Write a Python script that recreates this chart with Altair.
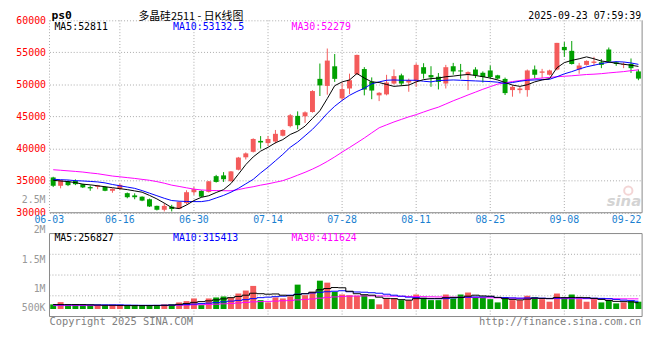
import altair as alt
import pandas as pd

# ---------------- data ----------------
dates = ["06-03","06-04","06-05","06-06","06-09","06-10","06-11","06-12","06-13","06-16",
         "06-17","06-18","06-19","06-20","06-23","06-24","06-25","06-26","06-27","06-30",
         "07-01","07-02","07-03","07-04","07-07","07-08","07-09","07-10","07-11","07-14",
         "07-15","07-16","07-17","07-18","07-21","07-22","07-23","07-24","07-25","07-28",
         "07-29","07-30","07-31","08-01","08-04","08-05","08-06","08-07","08-08","08-11",
         "08-12","08-13","08-14","08-15","08-18","08-19","08-20","08-21","08-22","08-25",
         "08-26","08-27","08-28","08-29","09-01","09-02","09-03","09-04","09-05","09-08",
         "09-09","09-10","09-11","09-12","09-15","09-16","09-17","09-18","09-19","09-22"]

opens = [35500,34200,34900,34950,34450,34000,34030,34030,33420,33730,
         33050,32700,32500,32100,31070,30460,30950,30600,31500,33200,
         33400,33250,35700,35820,34910,36700,38640,39500,41200,40850,
         41100,42000,43500,45100,45030,45700,50870,49770,52830,47830,
         49370,51600,52400,50450,48300,48450,50140,51420,50300,50500,
         52690,51460,51200,50140,52840,52180,51510,52330,51820,52180,
         51420,50860,49120,49120,49120,52330,51820,51510,52330,55850,
         55240,52330,53050,53360,53460,55450,53460,53050,53200,52030]
highs = [35600,35100,35000,35200,34500,34250,34340,34100,33800,34550,
         33150,33020,32550,32200,31100,31490,31230,31750,33500,34030,
         33500,34950,35900,36330,36500,38700,39400,41600,41950,41950,
         42900,43000,45400,45800,45800,49100,53260,55600,54740,50300,
         51680,54650,52700,51100,48800,51500,52340,51680,50910,53310,
         53310,52840,51780,53050,53360,53200,52030,52690,52030,52950,
         51500,51070,49880,49630,52330,52950,52430,52300,56480,56610,
         56770,53360,53750,54310,53970,55760,53600,53460,54050,52330]
lows = [34000,33800,34150,34300,33850,33420,33670,33350,33110,33530,
        32250,32100,31800,30900,30350,30200,30200,30550,31300,32760,
        32400,33150,34700,34800,34850,36600,38300,39400,40000,40400,
        40800,41900,43300,43000,44000,45600,48200,48400,50400,47500,
        48500,51500,48300,47700,47400,48300,50000,49800,48860,49630,
        50900,49630,49220,49370,51520,50900,49120,51000,50300,50860,
        50800,48350,48090,48600,48090,50910,51000,51400,52200,54310,
        53100,51670,52950,52950,52540,53360,52900,52540,51790,50660]
closes = [34200,35050,34300,34450,33950,33800,34250,33420,33730,34340,
          32420,32420,31890,30970,30460,31070,30580,31700,33200,33680,
          32500,34900,34800,35220,36440,38600,39250,41500,40950,41500,
          42300,42900,45200,43650,45650,48970,49850,53720,50870,49280,
          50660,54600,49200,49050,48700,50300,51300,50140,50660,53050,
          51670,51100,50400,52690,52030,52030,51920,51420,51160,51160,
          50910,48650,49630,49370,52180,51510,52030,52180,56480,55340,
          53190,52950,53670,53570,53050,53570,53200,53200,52540,50910]

ma5 = [35060,34950,34850,34700,34450,34350,34200,34050,33900,33750,
       33600,33400,33200,32700,32150,31500,30800,30650,31200,31900,
       32400,32650,33150,33600,34550,36000,37500,38700,39600,40200,
       40900,41400,42200,42700,43500,44700,45900,47800,49800,50400,
       50700,51700,51000,50400,50300,50000,49700,49800,49900,50400,
       50750,50900,51000,51200,51300,51450,51550,51400,51200,51000,
       50700,50300,49900,49700,49950,50400,50700,50900,52600,53400,
       53750,54000,54300,54000,53650,53500,53300,53150,53000,52811]
ma10 = [35220,35150,35100,35000,34950,34880,34800,34650,34400,34200,
        34000,33800,33450,33050,32650,32250,31900,31800,31750,31730,
        31730,31900,32300,32700,33200,33800,34500,35200,36200,37100,
        38100,39100,40200,41000,42000,43000,44200,45500,46600,47500,
        48300,48900,49400,50100,50400,50650,50700,50650,50650,50650,
        50500,50400,50600,50650,50700,50650,50600,50550,50500,50450,
        50350,50150,50300,50500,50650,50700,50750,50800,51200,51650,
        52000,52400,52750,53000,53250,53450,53550,53500,53350,53132.5]
ma30 = [36700,36620,36530,36440,36340,36200,36080,35900,35720,35600,
        35470,35350,35200,35060,34850,34600,34300,34100,33880,33680,
        33550,33480,33450,33430,33420,33600,33850,34050,34300,34500,
        34750,35000,35400,35850,36300,36800,37360,38000,38700,39450,
        40170,40900,41650,42450,43240,43700,44150,44550,44950,45290,
        45700,46100,46460,46950,47450,47900,48360,48800,49250,49650,
        50050,50250,50450,50600,50750,50900,51000,51100,51200,51280,
        51350,51450,51550,51600,51680,51800,51900,52000,52150,52279]

volumes = [188000,280000,160000,188000,160000,136000,136000,136000,136000,136000,
           136000,136000,136000,160000,136000,188000,188000,268000,320000,428000,
           160000,428000,468000,508000,468000,628000,748000,936000,360000,268000,
           468000,428000,508000,988000,560000,696000,1148000,1068000,696000,588000,
           560000,536000,560000,400000,188000,428000,428000,360000,360000,588000,
           456000,360000,360000,588000,428000,588000,668000,480000,456000,400000,
           268000,480000,360000,360000,536000,480000,400000,296000,628000,456000,
           588000,400000,296000,400000,268000,360000,228000,268000,320000,296000]
vma5 = [180000,180000,180000,180000,180000,170000,160000,150000,150000,145000,
        140000,140000,140000,140000,145000,150000,160000,190000,220000,270000,
        300000,330000,370000,410000,460000,510000,560000,640000,620000,600000,
        610000,560000,540000,590000,620000,680000,780000,830000,870000,860000,
        720000,620000,580000,560000,480000,430000,420000,380000,360000,420000,
        430000,420000,420000,460000,470000,470000,520000,560000,530000,520000,
        470000,420000,390000,370000,400000,440000,430000,420000,470000,460000,
        470000,470000,460000,430000,390000,350000,310000,300000,290000,256827]
vma10 = [170000,170000,170000,170000,170000,170000,170000,170000,170000,170000,
         160000,155000,150000,150000,150000,155000,160000,170000,180000,200000,
         220000,240000,260000,290000,320000,350000,380000,420000,460000,480000,
         500000,520000,560000,600000,620000,650000,680000,700000,720000,740000,
         700000,690000,680000,660000,640000,600000,560000,520000,480000,460000,
         430000,420000,420000,420000,450000,470000,480000,490000,490000,500000,
         470000,460000,450000,440000,450000,450000,440000,430000,440000,450000,
         450000,450000,440000,440000,430000,420000,390000,360000,340000,315413]
vma30 = [140000,140000,140000,140000,140000,140000,140000,140000,140000,140000,
         140000,140000,140000,140000,140000,140000,150000,155000,160000,170000,
         175000,185000,195000,210000,225000,245000,265000,290000,300000,310000,
         320000,335000,350000,370000,390000,410000,440000,470000,490000,510000,
         520000,525000,530000,530000,530000,525000,520000,515000,510000,505000,
         500000,495000,490000,485000,480000,475000,470000,465000,460000,455000,
         450000,445000,440000,435000,430000,425000,425000,420000,420000,420000,
         418000,418000,417000,416000,415000,414000,413000,413000,412000,411624]

price_ticks = [30000, 35000, 40000, 45000, 50000, 55000, 60000]
date_ticks = ["06-03","06-16","06-30","07-14","07-28","08-11","08-25","09-08","09-22"]
vol_labels = ["2.5M", "2M", "1.5M", "1M", "500K"]
price_legend = ["MA5:52811", "MA10:53132.5", "MA30:52279"]
vol_legend = ["MA5:256827", "MA10:315413", "MA30:411624"]
title_code = "ps0"
title_name = "多晶硅2511 - 日K线图"
stamp = "2025-09-23 07:59:39"
copyright_text = "Copyright 2025 SINA.COM"
site_text = "http://finance.sina.com.cn"
logo_text = "sina"

# ---------------- layout / styling ----------------
MONO = "DejaVu Sans Mono"
RED = "#f45b5b"
GREEN = "#00a000"
GRID = "#aaaaaa"
BORDER = "#888888"
MA_COLORS = ["#000000", "#0000ff", "#ff00ff"]   # MA5, MA10, MA30
W, H = 600, 299.9          # whole drawing area (price panel + volume panel)
MAIN_H = 194.8             # price panel height
VOL_TOP = 215.9            # top of volume panel
VOL_BASE = 292.3           # baseline of the volume bars
P_PER_PX = 30000 / MAIN_H
PRICE_DOMAIN = [30000 - (H - MAIN_H) * P_PER_PX, 60000]
V_PER_PX = 40000
VOL_DOMAIN = [-(H - VOL_BASE) * V_PER_PX, VOL_BASE * V_PER_PX]

df = pd.DataFrame({"d": dates, "o": opens, "h": highs, "l": lows, "c": closes,
                   "v": volumes, "ma5": ma5, "ma10": ma10, "ma30": ma30,
                   "vma5": vma5, "vma10": vma10, "vma30": vma30})
df["dir"] = ["up" if c >= o else "down" for o, c in zip(opens, closes)]
df["zero"] = 0

xscale = alt.Scale(domain=dates, paddingInner=0, paddingOuter=0)
X = alt.X("d:O", sort=dates, scale=xscale, axis=None)
color = alt.Color("dir:N", scale=alt.Scale(domain=["up", "down"], range=[RED, GREEN]), legend=None)
pscale = alt.Scale(domain=PRICE_DOMAIN, zero=False, nice=False)
vscale = alt.Scale(domain=VOL_DOMAIN, zero=False, nice=False)
y_axis = alt.Axis(values=price_ticks, title=None, format="d", labelColor="#ff0000", labelFont=MONO,
                  labelFontSize=10, labelPadding=4, labelOverlap=False, domain=False, ticks=False,
                  grid=True, gridDash=[1, 2], gridColor=GRID)

base = alt.Chart(df)
wicks = base.mark_rule(strokeWidth=1).encode(
    x=X, y=alt.Y("l:Q", scale=pscale, axis=y_axis), y2="h:Q", color=color)
bodies = base.mark_bar(size=5).encode(
    x=X, y=alt.Y("o:Q", scale=pscale, axis=None), y2="c:Q", color=color)
ma_lines = [base.mark_line(color=col, strokeWidth=1).encode(
    x=X, y=alt.Y(f"{f}:Q", scale=pscale, axis=None))
    for f, col in zip(["ma30", "ma10", "ma5"], MA_COLORS[::-1])]

vbars = base.mark_bar(size=6).encode(
    x=X, y=alt.Y("v:Q", scale=vscale, axis=None), y2="zero:Q", color=color)
vma_lines = [base.mark_line(color=col, strokeWidth=1, interpolate="step").encode(
    x=X, y=alt.Y(f"{f}:Q", scale=vscale, axis=None))
    for f, col in zip(["vma30", "vma10", "vma5"], MA_COLORS[::-1])]

# grid lines and frames
one = pd.DataFrame({"k": [0]})
inner_dates = pd.DataFrame({"d": date_ticks[1:-1]})
vgrid_main = alt.Chart(inner_dates).mark_rule(color=GRID, strokeDash=[1, 2]).encode(
    x=X, y=alt.value(0), y2=alt.value(MAIN_H))
vgrid_vol = alt.Chart(inner_dates).mark_rule(color=GRID, strokeDash=[1, 2]).encode(
    x=X, y=alt.value(VOL_TOP), y2=alt.value(H))
hgrid_vol = [alt.Chart(one).mark_rule(color=GRID, strokeDash=[1, 2]).encode(
    x=alt.value(0), x2=alt.value(W), y=alt.value(VOL_TOP + (H - VOL_TOP) * k / 4)) for k in (1, 2, 3)]
frames = [
    alt.Chart(one).mark_rule(color=BORDER).encode(x=alt.value(0), x2=alt.value(W), y=alt.value(MAIN_H)),
    alt.Chart(one).mark_rule(color=BORDER).encode(x=alt.value(W), y=alt.value(0), y2=alt.value(MAIN_H)),
    alt.Chart(one).mark_rule(color=GRID, strokeDash=[1, 2]).encode(x=alt.value(0), y=alt.value(0), y2=alt.value(MAIN_H)),
    alt.Chart(one).mark_rect(fill=None, stroke=BORDER).encode(
        x=alt.value(0), x2=alt.value(W), y=alt.value(VOL_TOP), y2=alt.value(H)),
]

def txt(s, x, y, col, size=10, align="left", font=MONO, weight="normal", style="normal"):
    return alt.Chart(pd.DataFrame({"t": [s]})).mark_text(
        align=align, baseline="middle", font=font, fontSize=size, color=col,
        fontWeight=weight, fontStyle=style).encode(text="t:N", x=alt.value(x), y=alt.value(y))

DATE_Y = 202.3
DATE_COLOR = "#1a7fd0"
date_first = alt.Chart(pd.DataFrame({"d": date_ticks[:1]})).mark_text(
    align="center", baseline="middle", font=MONO, fontSize=10, color=DATE_COLOR, dx=-4).encode(
    x=X, y=alt.value(DATE_Y), text="d:N")
date_mid = alt.Chart(pd.DataFrame({"d": date_ticks[1:-1]})).mark_text(
    align="center", baseline="middle", font=MONO, fontSize=10, color=DATE_COLOR).encode(
    x=X, y=alt.value(DATE_Y), text="d:N")
date_last = alt.Chart(pd.DataFrame({"d": date_ticks[-1:]})).mark_text(
    align="right", baseline="middle", font=MONO, fontSize=10, color=DATE_COLOR, dx=3).encode(
    x=X, y=alt.value(DATE_Y), text="d:N")

logo_eye = alt.Chart(one).mark_point(shape="circle", size=70, filled=False, color="#efc4c4",
                                     strokeWidth=2).encode(x=alt.value(586), y=alt.value(172.5))

vol_label_y = [182.3, 212.3, 242.3, 271.6, 291.6]
texts = [
    txt(title_code, 2, -4.8, "#000000", size=11.5, weight="bold"),
    txt(title_name, 90, -3.6, "#000000", size=11, font="Noto Sans CJK SC"),
    txt(stamp, W - 1, -4.8, "#000000", align="right"),
    txt(price_legend[0], 5, 7.0, MA_COLORS[0]),
    txt(price_legend[1], 125, 7.0, MA_COLORS[1]),
    txt(price_legend[2], 245, 7.0, MA_COLORS[2]),
    txt(vol_legend[0], 5, VOL_TOP + 4.2, MA_COLORS[0]),
    txt(vol_legend[1], 125, VOL_TOP + 4.2, MA_COLORS[1]),
    txt(vol_legend[2], 245, VOL_TOP + 4.2, MA_COLORS[2]),
    txt(copyright_text, 0, H + 6, "#808080", size=10.5),
    txt(site_text, W - 1, H + 6, "#808080", size=10.5, align="right"),
    txt(logo_text, 599, 183, "#d4d4d4", size=15, align="right", font="DejaVu Sans", weight="bold", style="italic"),
] + [txt(s, -4, yy, "#999999", align="right") for s, yy in zip(vol_labels, vol_label_y)]

chart = alt.layer(
    vgrid_main, vgrid_vol, *hgrid_vol, *frames,
    wicks, bodies, *ma_lines, vbars, *vma_lines,
    date_first, date_mid, date_last, logo_eye, *texts,
).resolve_scale(y="independent").properties(
    width=W, height=H,
    autosize=alt.AutoSizeParams(type="none"),
    padding={"left": 42, "top": 10.4, "right": 10, "bottom": 22},
).configure_view(stroke=None)

chart.save("out.html", embed_options={"renderer": "svg", "actions": False})
